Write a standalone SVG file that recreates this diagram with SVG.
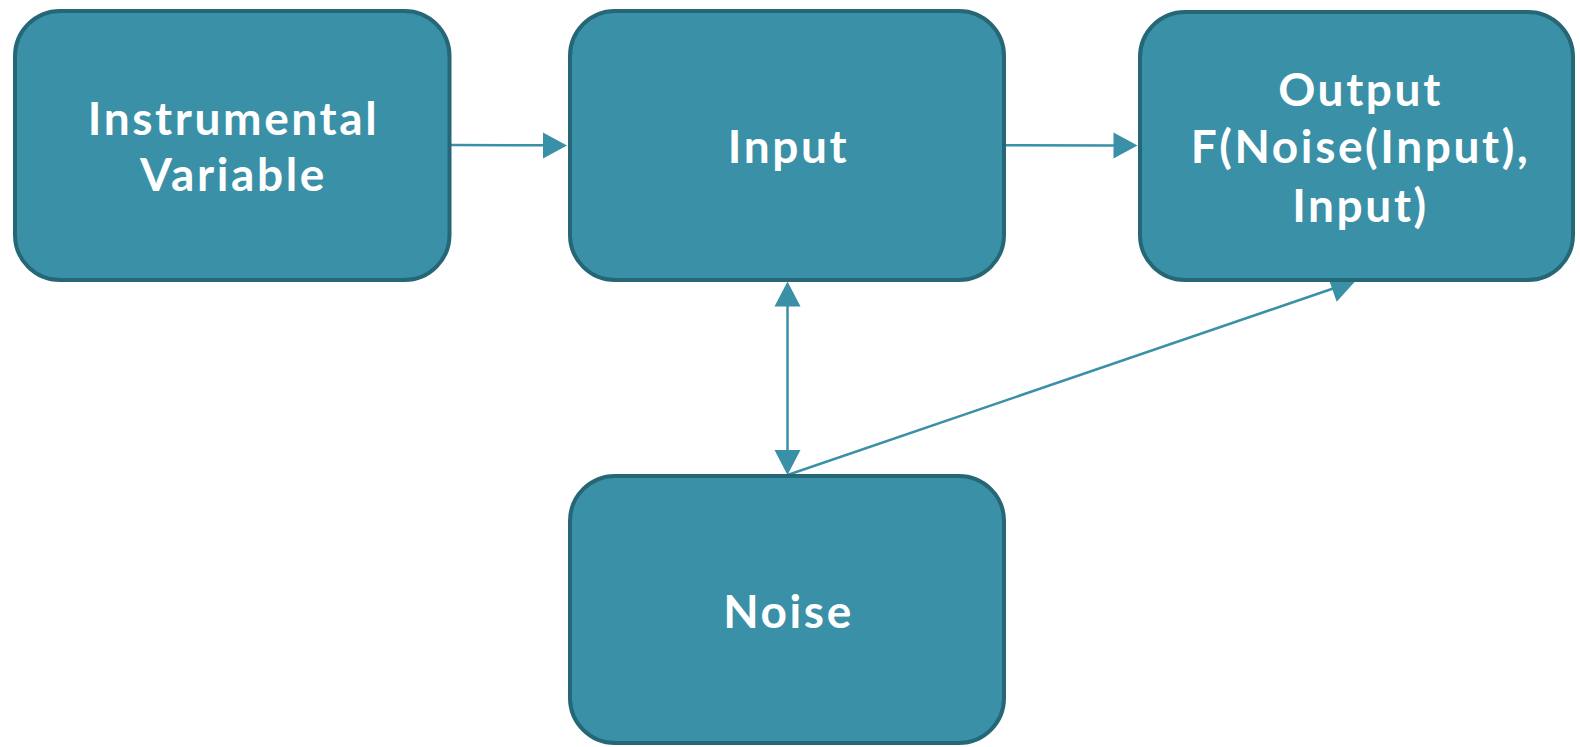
<svg xmlns="http://www.w3.org/2000/svg" width="1580" height="747" viewBox="0 0 1580 747">
<defs>
<style>
.node rect{fill:#3A90A6;stroke:#256776;stroke-width:4}
.node text{fill:#FFFFFF;font-family:"Lato","Open Sans",sans-serif;font-weight:bold;font-size:46px;letter-spacing:2.6px;text-anchor:middle}
.conn{stroke:#3A90A6;stroke-width:2.5;fill:none}
.head{fill:#3A90A6;stroke:none}
</style>
</defs>
<rect width="1580" height="747" fill="#FFFFFF"/>
<g id="connectors">
<line class="conn" x1="450" y1="145" x2="546" y2="145.3"/>
<polygon class="head" points="567,145.5 543,132.5 543,158.5"/>
<line class="conn" x1="1004" y1="145.3" x2="1116" y2="145.5"/>
<polygon class="head" points="1137.5,145.5 1113.5,132.5 1113.5,158.5"/>
<line class="conn" x1="787.5" y1="303" x2="787.5" y2="453"/>
<polygon class="head" points="787.5,281.5 774.5,306.5 800.5,306.5"/>
<polygon class="head" points="787.5,475 774.5,450 800.5,450"/>
<line class="conn" x1="787.5" y1="475" x2="1336" y2="287.5"/>
<polygon class="head" points="1355,281.5 1328,277 1336.7,301.7"/>
</g>
<g id="node-instrumental" class="node">
<rect x="15" y="11" width="434.5" height="269" rx="45" ry="45"/>
<text x="233.5" y="135">Instrumental</text>
<text x="233.5" y="191">Variable</text>
</g>
<g id="node-input" class="node">
<rect x="570" y="11" width="434" height="269" rx="45" ry="45"/>
<text x="788.5" y="163">Input</text>
</g>
<g id="node-output" class="node">
<rect x="1140" y="12" width="433" height="268" rx="45" ry="45"/>
<text x="1360.5" y="106">Output</text>
<text x="1360.5" y="163">F(Noise(Input),</text>
<text x="1360.5" y="222">Input)</text>
</g>
<g id="node-noise" class="node">
<rect x="570" y="476" width="434" height="267" rx="45" ry="45"/>
<text x="788.5" y="628">Noise</text>
</g>
</svg>
